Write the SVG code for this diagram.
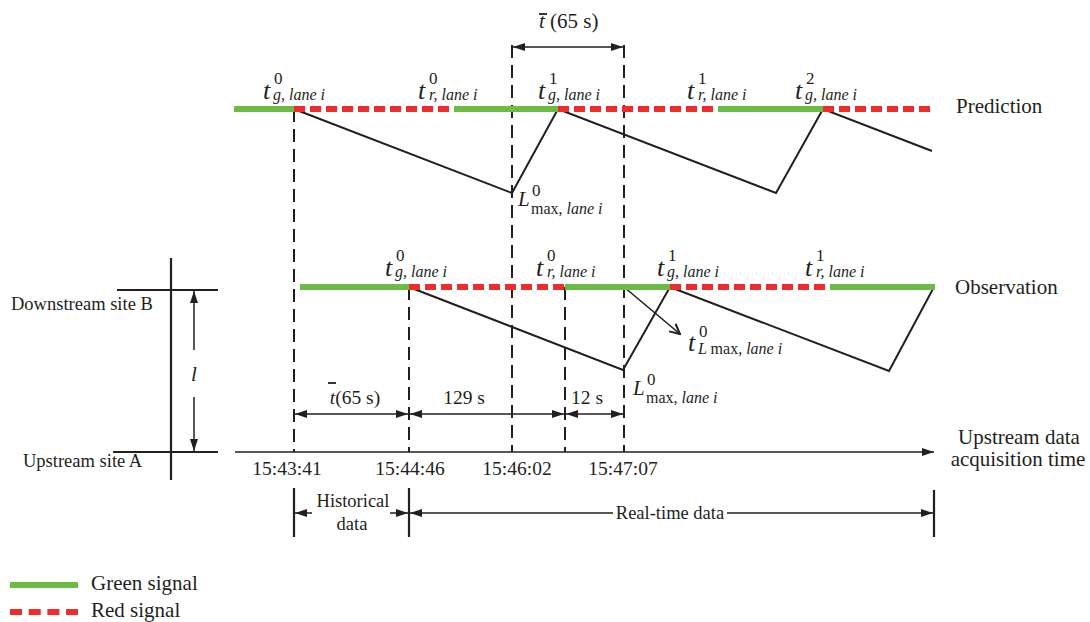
<svg xmlns="http://www.w3.org/2000/svg" width="1090" height="622" viewBox="0 0 1090 622">
<defs>
<marker id="ah" viewBox="0 0 12 8" refX="12" refY="4" markerWidth="12" markerHeight="8" markerUnits="userSpaceOnUse" orient="auto-start-reverse"><path d="M0,0 L12,4 L0,8 z" fill="#231f20"/></marker>
<marker id="oa" viewBox="0 0 12 12" refX="11" refY="6" markerWidth="12" markerHeight="12" markerUnits="userSpaceOnUse" orient="auto"><path d="M1,1 L11,6 L1,11" fill="none" stroke="#231f20" stroke-width="2"/></marker>
</defs>
<style>
.sg { stroke:#6cbb45; stroke-width:6; fill:none; }
.sr { stroke:#ee2c2c; stroke-width:6; stroke-dasharray:11 5; fill:none; }
.saw { fill:none; stroke:#231f20; stroke-width:2; stroke-linejoin:miter; }
.dash { stroke:#231f20; stroke-width:2; stroke-dasharray:13 7; fill:none; }
.ln { stroke:#231f20; stroke-width:1.6; fill:none; }
.bar { stroke:#231f20; stroke-width:2.2; fill:none; }
.dim { stroke:#231f20; stroke-width:1.5; fill:none; marker-start:url(#ah); marker-end:url(#ah); }
.one { stroke:#231f20; stroke-width:1.5; fill:none; marker-end:url(#ah); }
text { font-family:"Liberation Serif", "Times New Roman", serif; fill:#231f20; }
.lbl { font-size:21px; }
.side { font-size:18.5px; }
.tm { font-size:19.5px; text-anchor:middle; }
.v { font-style:italic; font-size:26px; }
.vl { font-style:italic; font-size:21px; }
.sup { font-size:17px; }
.sub { font-size:16px; font-style:italic; }
.rm { font-style:normal; }
</style>

<g id="connectors">
  <line class="dash" x1="294" y1="109" x2="294" y2="452"/>
  <line class="dash" x1="512" y1="45" x2="512" y2="452"/>
  <line class="dash" x1="624" y1="45" x2="624" y2="452"/>
  <line class="dash" x1="409" y1="287" x2="409" y2="452"/>
  <line class="dash" x1="565" y1="287" x2="565" y2="452"/>
  <polyline class="saw" points="294,109 512,193 558,109 776,193 823,109 932,151"/>
  <polyline class="saw" points="409,287 623,370 670,287 889,371 934,287"/>
  <line class="ln" x1="624" y1="287" x2="680" y2="334" stroke-width="2" marker-end="url(#oa)"/>
  <line class="dim" x1="513" y1="47" x2="623" y2="47"/>
  <line class="dim" x1="295" y1="414" x2="408" y2="414"/>
  <line class="dim" x1="410" y1="414" x2="564" y2="414"/>
  <line class="dim" x1="566" y1="414" x2="623" y2="414"/>
  <line class="ln" x1="235" y1="452" x2="934" y2="452" stroke-width="2" marker-end="url(#ah)"/>
  <line class="one" x1="312" y1="513" x2="295" y2="513"/>
  <line class="one" x1="390" y1="513" x2="408" y2="513"/>
  <line class="dim" x1="410" y1="513" x2="933" y2="513"/>
  <line class="bar" x1="294" y1="488" x2="294" y2="537"/>
  <line class="bar" x1="409" y1="488" x2="409" y2="537"/>
  <line class="bar" x1="934" y1="490" x2="934" y2="537"/>
  <line class="bar" x1="171" y1="258" x2="171" y2="480"/>
  <line class="bar" x1="117" y1="290" x2="218" y2="290"/>
  <line class="bar" x1="113" y1="452" x2="218" y2="452"/>
  <line class="one" x1="194" y1="350" x2="194" y2="291"/>
  <line class="one" x1="194" y1="397" x2="194" y2="451"/>
</g>

<g id="prediction-signal">
  <line class="sg" x1="234" y1="109" x2="294" y2="109"/>
  <line class="sr" x1="294" y1="109" x2="454" y2="109"/>
  <line class="sg" x1="454" y1="109" x2="558" y2="109"/>
  <line class="sr" x1="558" y1="109" x2="718" y2="109"/>
  <line class="sg" x1="718" y1="109" x2="823" y2="109"/>
  <line class="sr" x1="823" y1="109" x2="932" y2="109"/>
  <text class="lbl" x="956" y="113">Prediction</text>
</g>

<g id="observation-signal">
  <line class="sg" x1="300" y1="287" x2="409" y2="287"/>
  <line class="sr" x1="409" y1="287" x2="565" y2="287"/>
  <line class="sg" x1="565" y1="287" x2="670" y2="287"/>
  <line class="sr" x1="670" y1="287" x2="830" y2="287"/>
  <line class="sg" x1="830" y1="287" x2="935" y2="287"/>
  <text class="lbl" x="955" y="294">Observation</text>
</g>

<g id="pred-labels">
  <g id="p-tg0"><text class="v" x="263" y="99">t</text><text class="sup" x="274" y="84">0</text><text class="sub" x="273" y="100">g, lane i</text></g>
  <g id="p-tr0"><text class="v" x="418" y="99">t</text><text class="sup" x="429" y="84">0</text><text class="sub" x="429" y="100">r, lane i</text></g>
  <g id="p-tg1"><text class="v" x="538" y="99">t</text><text class="sup" x="549" y="84">1</text><text class="sub" x="548" y="100">g, lane i</text></g>
  <g id="p-tr1"><text class="v" x="687" y="99">t</text><text class="sup" x="698" y="84">1</text><text class="sub" x="698" y="100">r, lane i</text></g>
  <g id="p-tg2"><text class="v" x="795" y="99">t</text><text class="sup" x="806" y="84">2</text><text class="sub" x="805" y="100">g, lane i</text></g>
  <g id="p-lmax"><text class="vl" x="518" y="206">L</text><text class="sup" x="532" y="196">0</text><text class="sub" x="531" y="214"><tspan class="rm">max,</tspan> lane i</text></g>
</g>

<g id="obs-labels">
  <g id="o-tg0"><text class="v" x="385" y="276">t</text><text class="sup" x="396" y="261">0</text><text class="sub" x="395" y="277">g, lane i</text></g>
  <g id="o-tr0"><text class="v" x="536" y="276">t</text><text class="sup" x="547" y="261">0</text><text class="sub" x="547" y="277">r, lane i</text></g>
  <g id="o-tg1"><text class="v" x="657" y="276">t</text><text class="sup" x="668" y="261">1</text><text class="sub" x="667" y="277">g, lane i</text></g>
  <g id="o-tr1"><text class="v" x="805" y="276">t</text><text class="sup" x="816" y="261">1</text><text class="sub" x="816" y="277">r, lane i</text></g>
  <g id="o-tlmax"><text class="v" x="688" y="351">t</text><text class="sup" x="699" y="337">0</text><text class="sub" x="698" y="354">L <tspan class="rm">max,</tspan> lane i</text></g>
  <g id="o-lmax"><text class="vl" x="633" y="395">L</text><text class="sup" x="647" y="385">0</text><text class="sub" x="646" y="403"><tspan class="rm">max,</tspan> lane i</text></g>
</g>

<g id="dim-labels">
  <g id="tbar-top"><text class="lbl" x="539" y="28"><tspan font-style="italic">t</tspan> (65 s)</text><line x1="539" y1="14" x2="547" y2="14" stroke="#231f20" stroke-width="1.8"/></g>
  <g id="tbar-bottom"><text class="tm" x="355" y="404"><tspan font-style="italic">t</tspan>(65 s)</text><line x1="328" y1="383" x2="336" y2="383" stroke="#231f20" stroke-width="1.8"/></g>
  <text class="tm" x="464" y="404">129 s</text>
  <text class="tm" x="587" y="404">12 s</text>
</g>

<g id="time-axis">
  <text class="tm" x="287" y="475">15:43:41</text>
  <text class="tm" x="410" y="475">15:44:46</text>
  <text class="tm" x="517" y="475">15:46:02</text>
  <text class="tm" x="623" y="475">15:47:07</text>
  <text class="lbl" x="1019" y="444" text-anchor="middle">Upstream data</text>
  <text class="lbl" x="1018" y="466" text-anchor="middle">acquisition time</text>
</g>

<g id="sites">
  <text class="side" x="11" y="310">Downstream site B</text>
  <text class="side" x="23" y="467">Upstream site A</text>
  <text class="vl" x="194" y="381" text-anchor="middle">l</text>
</g>

<g id="data-spans">
  <text class="side" x="353" y="507" text-anchor="middle">Historical</text>
  <text class="side" x="352" y="530" text-anchor="middle">data</text>
  <rect x="613" y="503" width="114" height="20" fill="#ffffff"/>
  <text class="side" x="670" y="519" text-anchor="middle">Real-time data</text>
</g>

<g id="legend">
  <line class="sg" x1="10" y1="585" x2="78" y2="585"/>
  <text class="lbl" x="91" y="590">Green signal</text>
  <line x1="10" y1="612" x2="78" y2="612" stroke="#ee2c2c" stroke-width="6" stroke-dasharray="12 6.7"/>
  <text class="lbl" x="91" y="617">Red signal</text>
</g>
</svg>
